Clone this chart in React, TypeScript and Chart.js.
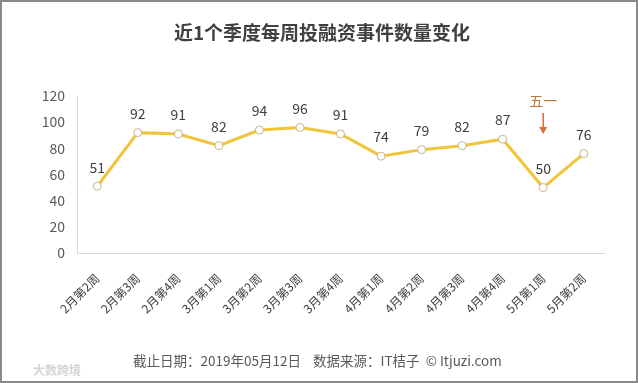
import React, { useEffect, useRef } from "react";
import { Chart, registerables } from "chart.js";

Chart.register(...registerables);

const categories = ["2月第2周", "2月第3周", "2月第4周", "3月第1周", "3月第2周", "3月第3周", "3月第4周", "4月第1周", "4月第2周", "4月第3周", "4月第4周", "5月第1周", "5月第2周"];
const eventCounts = [51, 92, 91, 82, 94, 96, 91, 74, 79, 82, 87, 50, 76];
const yTicks = [0, 20, 40, 60, 80, 100, 120];
const titleText = "近1个季度每周投融资事件数量变化";
const footerText = "截止日期：2019年05月12日    数据来源：IT桔子  © Itjuzi.com";
const annotationIndex = 11;
const annotationText = "五一";

const FONT = "'Noto Sans CJK SC', 'Noto Sans', sans-serif";

export default function App() {
  const ref = useRef<HTMLCanvasElement | null>(null);

  useEffect(() => {
    document.body.style.margin = "0";
    const canvas = ref.current;
    if (!canvas) return;

    const decor = {
      id: "decor",
      beforeDraw(chart: any) {
        const ctx = chart.ctx;
        ctx.save();
        ctx.fillStyle = "#ffffff";
        ctx.fillRect(0, 0, chart.width, chart.height);
        ctx.restore();
      },
      afterDraw(chart: any) {
        const ctx = chart.ctx;
        const x = chart.scales.x;
        const y = chart.scales.y;
        ctx.save();
        // border
        ctx.strokeStyle = "#8a8a8a";
        ctx.lineWidth = 2;
        ctx.strokeRect(1, 1, chart.width - 2, chart.height - 2);
        // title
        ctx.fillStyle = "#404040";
        ctx.font = `bold 19px ${FONT}`;
        ctx.textAlign = "center";
        ctx.textBaseline = "middle";
        ctx.fillText(titleText, 322, 33);
        // data labels
        ctx.font = `14px ${FONT}`;
        ctx.fillStyle = "#404040";
        eventCounts.forEach((v, i) => {
          ctx.fillText(String(v), x.getPixelForValue(i), y.getPixelForValue(v) - 19);
        });
        // annotation
        const ax = x.getPixelForValue(annotationIndex);
        ctx.fillStyle = "#b8783a";
        ctx.font = `14px ${FONT}`;
        ctx.fillText(annotationText, ax, 101);
        ctx.strokeStyle = "#dc6a3c";
        ctx.fillStyle = "#dc6a3c";
        ctx.lineWidth = 1.5;
        ctx.beginPath();
        ctx.moveTo(ax, 113);
        ctx.lineTo(ax, 128);
        ctx.stroke();
        ctx.beginPath();
        ctx.moveTo(ax - 4, 127);
        ctx.lineTo(ax + 4, 127);
        ctx.lineTo(ax, 134);
        ctx.closePath();
        ctx.fill();
        // footer
        ctx.fillStyle = "#595959";
        ctx.font = `13.5px ${FONT}`;
        ctx.textAlign = "left";
        ctx.fillText(footerText, 133, 361);
        // faint logo text
        ctx.fillStyle = "#d4d4d4";
        ctx.font = `bold 12px ${FONT}`;
        ctx.fillText("大数跨境", 33, 370);
        ctx.restore();
      },
    };

    const chart = new Chart(canvas, {
      type: "line",
      data: {
        labels: categories,
        datasets: [
          {
            data: eventCounts,
            borderColor: "#F0C53C",
            borderWidth: 3,
            pointRadius: 4,
            pointBackgroundColor: "#ffffff",
            pointBorderColor: "#c9b48e",
            pointBorderWidth: 1,
            tension: 0,
          },
        ],
      },
      options: {
        responsive: false,
        animation: false,
        devicePixelRatio: 1,
        layout: { padding: { left: 30, right: 34, top: 96, bottom: 60 } },
        plugins: { legend: { display: false }, tooltip: { enabled: false }, title: { display: false } },
        scales: {
          x: {
            offset: true,
            grid: { display: false, drawTicks: false },
            border: { display: true, color: "#d9d9d9", width: 1 },
            ticks: {
              color: "#404040",
              font: { size: 12, family: FONT },
              minRotation: 45,
              maxRotation: 45,
              padding: 18,
              autoSkip: false,
            },
            afterFit(scale: any) {
              scale.height = 70;
            },
          },
          y: {
            min: 0,
            max: 120,
            grid: { display: false, drawTicks: false },
            border: { display: true, color: "#d9d9d9", width: 1 },
            afterBuildTicks(scale: any) {
              scale.ticks = yTicks.map((v) => ({ value: v }));
            },
            ticks: {
              color: "#595959",
              font: { size: 14, family: FONT },
              padding: 12,
            },
            afterFit(scale: any) {
              scale.width = 47;
            },
          },
        },
      },
      plugins: [decor],
    });

    return () => chart.destroy();
  }, []);

  return <canvas ref={ref} width={638} height={383} style={{ display: "block" }} />;
}
